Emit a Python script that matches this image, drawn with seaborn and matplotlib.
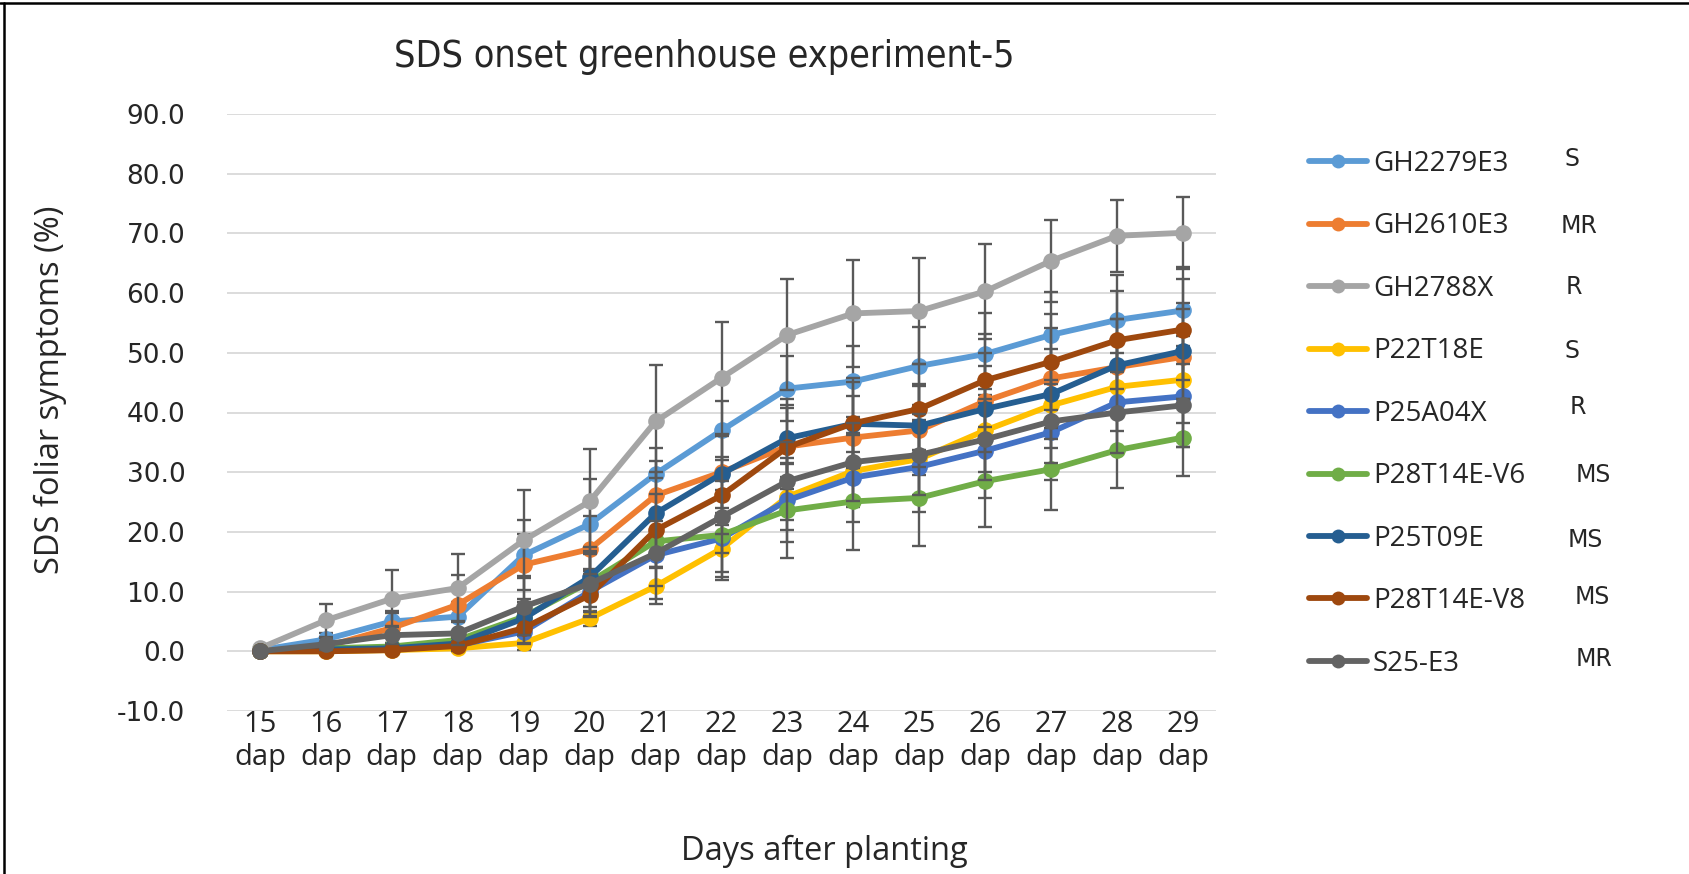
import matplotlib
matplotlib.use('Agg')
import matplotlib.pyplot as plt
from matplotlib import font_manager
from matplotlib.lines import Line2D
import numpy as np
import pandas as pd
import seaborn as sns

###############################################################################
# data
days = ['15', '16', '17', '18', '19', '20', '21', '22', '23', '24', '25', '26', '27', '28', '29']
tick_labels = [d + '\ndap' for d in days]
yticks = [-10, 0, 10, 20, 30, 40, 50, 60, 70, 80, 90]

names = ['GH2279E3', 'GH2610E3', 'GH2788X', 'P22T18E', 'P25A04X',
         'P28T14E-V6', 'P25T09E', 'P28T14E-V8', 'S25-E3']
ratings = ['S', 'MR', 'R', 'S', 'R', 'MS', 'MS', 'MS', 'MR']
colors = ['#5B9BD5', '#ED7D31', '#A5A5A5', '#FFC000', '#4472C4',
          '#70AD47', '#255E91', '#9E480E', '#636363']

gh2279e3 = [0.2, 2.0, 5.0, 5.8, 16.1, 21.3, 29.7, 37.0, 44.0, 45.2, 47.8, 49.8, 53.0, 55.5, 57.1]
gh2610e3 = [0.0, 0.8, 3.9, 7.8, 14.5, 17.1, 26.1, 30.0, 34.3, 35.8, 37.0, 41.9, 45.7, 47.6, 49.3]
gh2788x = [0.5, 5.2, 8.8, 10.6, 18.6, 25.1, 38.5, 45.8, 53.0, 56.6, 57.0, 60.3, 65.4, 69.6, 70.1]
p22t18e = [0.0, 0.0, 0.2, 0.5, 1.4, 5.5, 10.9, 17.2, 25.9, 30.2, 32.2, 37.0, 41.2, 44.3, 45.5]
p25a04x = [0.0, 0.3, 0.5, 1.0, 3.3, 10.0, 16.1, 18.9, 25.3, 29.1, 30.9, 33.6, 36.7, 41.7, 42.7]
p28t14e_v6 = [0.0, 0.5, 0.8, 1.9, 5.8, 11.6, 18.4, 19.5, 23.6, 25.1, 25.7, 28.5, 30.5, 33.7, 35.8]
p25t09e = [0.0, 0.3, 0.5, 1.3, 5.5, 12.4, 23.1, 29.7, 35.7, 38.1, 37.8, 40.6, 43.1, 47.9, 50.3]
p28t14e_v8 = [0.0, 0.0, 0.2, 0.9, 3.9, 9.4, 20.3, 26.1, 34.2, 38.2, 40.6, 45.4, 48.5, 52.1, 53.9]
s25_e3 = [0.0, 1.2, 2.7, 3.0, 7.5, 11.3, 16.4, 22.5, 28.5, 31.7, 32.9, 35.5, 38.5, 40.0, 41.2]

# standard errors (error bars)
se_gh2279e3 = [0.2, 1.0, 1.8, 2.5, 3.5, 7.5, 4.3, 5.0, 5.5, 6.0, 6.5, 6.8, 7.2, 7.5, 7.2]
se_gh2610e3 = [0.0, 0.8, 2.5, 5.0, 7.5, 5.5, 5.8, 6.0, 6.5, 7.0, 7.5, 8.0, 8.5, 8.0, 8.0]
se_gh2788x = [0.3, 2.8, 4.8, 5.7, 8.4, 8.8, 9.4, 9.4, 9.3, 8.9, 8.8, 8.0, 6.9, 6.0, 6.0]
se_p22t18e = [0.0, 0.0, 0.3, 0.5, 1.2, 1.3, 3.0, 4.0, 5.5, 6.0, 6.5, 7.0, 7.2, 7.4, 7.3]
se_p25a04x = [0.0, 0.3, 0.5, 0.8, 2.0, 3.5, 7.4, 6.5, 7.0, 7.5, 7.5, 8.0, 8.0, 8.3, 8.4]
se_p28t14e_v6 = [0.0, 0.4, 0.6, 1.2, 3.0, 5.0, 4.2, 7.6, 8.0, 8.2, 8.1, 7.6, 6.9, 6.4, 6.5]
se_p25t09e = [0.0, 0.3, 0.5, 1.0, 2.8, 5.0, 7.0, 6.5, 6.5, 7.0, 7.0, 7.2, 7.5, 7.8, 8.0]
se_p28t14e_v8 = [0.0, 0.0, 0.3, 0.8, 2.5, 3.5, 6.1, 6.5, 7.0, 7.5, 7.5, 7.8, 8.0, 8.2, 8.5]
se_s25_e3 = [0.0, 1.0, 1.5, 2.0, 4.7, 5.5, 5.5, 6.0, 6.5, 6.5, 6.8, 6.8, 7.0, 6.8, 6.9]

means = [gh2279e3, gh2610e3, gh2788x, p22t18e, p25a04x, p28t14e_v6, p25t09e, p28t14e_v8, s25_e3]
errs = [se_gh2279e3, se_gh2610e3, se_gh2788x, se_p22t18e, se_p25a04x,
        se_p28t14e_v6, se_p25t09e, se_p28t14e_v8, se_s25_e3]

###############################################################################
sns.set_style('white')
plt.rcParams['font.family'] = ['Open Sans', 'DejaVu Sans']

# narrow face for the title if one is around
fonts = font_manager.fontManager.ttflist
if any(f.name == 'Liberation Sans Narrow' for f in fonts):
    title_kw = dict(family='Liberation Sans Narrow', fontsize=31)
elif any(f.name == 'DejaVu Sans' and f.stretch == 'condensed' for f in fonts):
    title_kw = dict(family='DejaVu Sans', fontstretch='condensed', fontsize=27)
else:
    title_kw = dict(family='Open Sans', fontsize=26.5)

fig = plt.figure(figsize=(16.89, 8.74), dpi=100)
ax = fig.add_axes([227 / 1689, 1 - 711 / 874, (1216 - 227) / 1689, (711 - 114) / 874])

pos = np.arange(len(days))
for i, (name, m, e, c) in enumerate(zip(names, means, errs, colors)):
    df = pd.DataFrame({'pos': pos, 'val': m})
    ax.errorbar(pos, m, yerr=e, fmt='none', ecolor='#595959', elinewidth=1.7,
                capsize=5, capthick=1.7, zorder=2 + 2 * i)
    sns.lineplot(data=df, x='pos', y='val', ax=ax, color=c, linewidth=4.2,
                 marker='o', markersize=12, markeredgewidth=0, label=name,
                 zorder=3 + 2 * i)

ax.set_xlim(-0.5, len(days) - 0.5)
ax.set_ylim(-10, 90)
ax.set_xticks(pos)
ax.set_xticklabels(tick_labels, fontsize=21, linespacing=1.2)
ax.set_yticks(yticks)
ax.set_yticklabels(['%.1f' % v for v in yticks], fontsize=19, family='DejaVu Sans')
ax.tick_params(axis='both', length=0)
ax.tick_params(axis='y', pad=30)
ax.tick_params(axis='x', pad=-1)
ax.grid(axis='y', color='#D9D9D9', linewidth=1.3)
ax.grid(axis='x', visible=False)
ax.set_axisbelow(True)
for s in ax.spines.values():
    s.set_visible(False)
ax.set_xlabel('')
ax.set_ylabel('')

fig.text(704 / 1689, 1 - 57 / 874, 'SDS onset greenhouse experiment-5', ha='center', va='center',
         **title_kw)
fig.text(50 / 1689, 1 - 390 / 874, 'SDS foliar symptoms (%)', rotation=90, ha='center', va='center',
         fontsize=23.5)
fig.text(824 / 1689, 1 - 851 / 874, 'Days after planting', ha='center', va='center', fontsize=23.5)

leg = ax.legend(loc='upper left', bbox_to_anchor=(1309 / 1689, 1 - 150 / 874),
                bbox_transform=fig.transFigure, frameon=False, fontsize=20,
                borderpad=0, borderaxespad=0, handlelength=2.1, handletextpad=0.2,
                labelspacing=1.24)
for h in leg.legend_handles:
    h.set_markersize(10)

rating_pos = [(1565, 159), (1561, 226), (1566, 287), (1565, 351), (1570, 407),
              (1576, 475), (1568, 540), (1575, 597), (1576, 659)]
for r, (px, py) in zip(ratings, rating_pos):
    fig.text(px / 1689, 1 - py / 874, r, ha='left', va='center', fontsize=17, family='DejaVu Sans')

# chart frame edges that show in the crop
fig.add_artist(Line2D([0, 1], [1 - 3 / 874, 1 - 3 / 874], color='black', linewidth=1.8,
                      transform=fig.transFigure))
fig.add_artist(Line2D([4 / 1689, 4 / 1689], [0, 1 - 3 / 874], color='black', linewidth=1.8,
                      transform=fig.transFigure))

fig.savefig('out.png', dpi=100)
